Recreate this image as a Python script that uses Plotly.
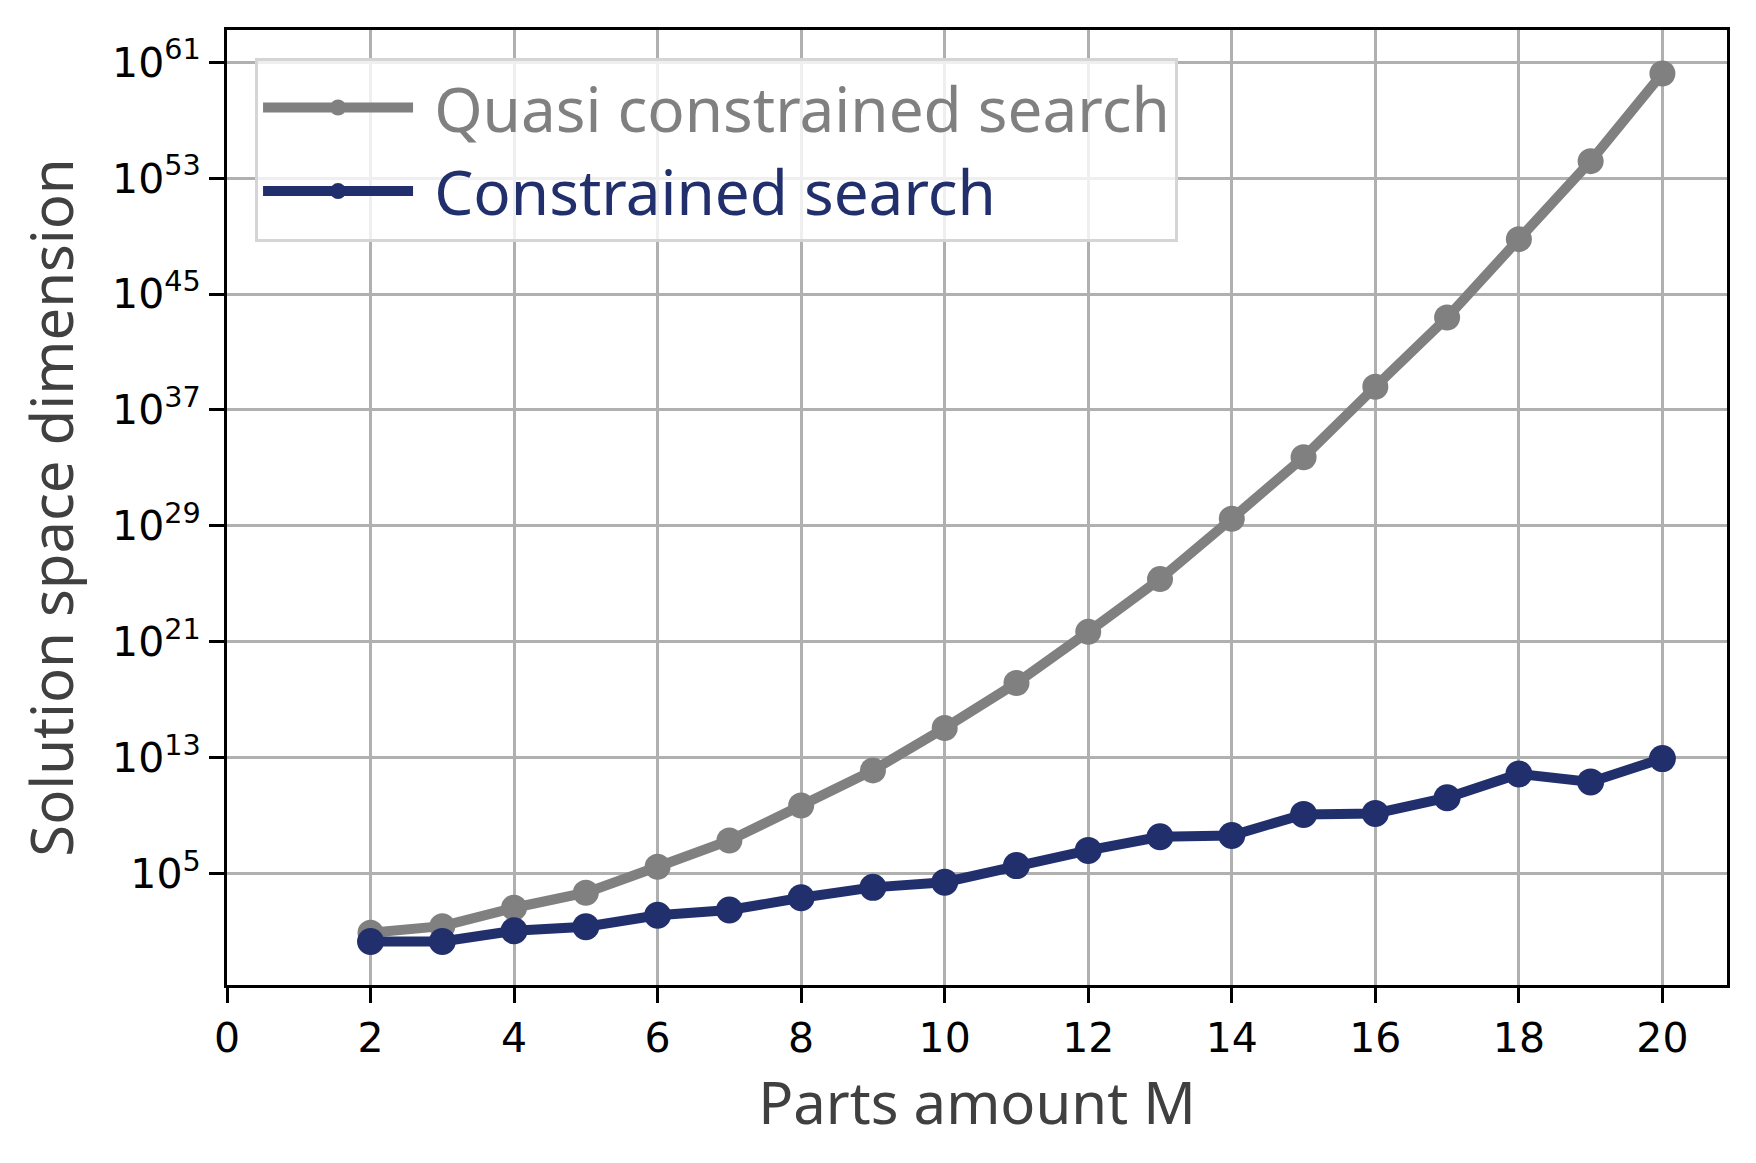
import plotly.graph_objects as go

parts_m = [2, 3, 4, 5, 6, 7, 8, 9, 10, 11, 12, 13, 14, 15, 16, 17, 18, 19, 20]

quasi_constrained = [8, 2.3e1, 4.3e2, 4.7e3, 2.9e5, 1.9e7, 4.9e9, 1.3e12, 1.1e15, 1.4e18,
                     4.8e21, 2.1e25, 3.1e29, 5.4e33, 4.0e38, 2.4e43, 6.2e48, 1.5e54, 1.7e60]

constrained = [2, 2, 1.1e1, 2.1e1, 1.3e2, 3.0e2, 2.1e3, 1.1e4, 2.5e4, 3.5e5,
               3.9e6, 3.4e7, 4.2e7, 1.2e9, 1.4e9, 1.7e10, 7.4e11, 2.1e11, 8.5e12]

y_tick_vals = [1e5, 1e13, 1e21, 1e29, 1e37, 1e45, 1e53, 1e61]
y_tick_text = ["10<sup>5</sup>", "10<sup>13</sup>", "10<sup>21</sup>", "10<sup>29</sup>",
               "10<sup>37</sup>", "10<sup>45</sup>", "10<sup>53</sup>", "10<sup>61</sup>"]

gray = "#808080"
navy = "#21306c"
title_font = dict(family="Noto Sans", size=58, color="#404040")

fig = go.Figure()
fig.add_trace(go.Scatter(
    x=parts_m, y=quasi_constrained, mode="lines+markers",
    name="<span style='color:%s'>&nbsp;Quasi constrained search</span>" % gray,
    line=dict(color=gray, width=10), marker=dict(color=gray, size=26),
))
fig.add_trace(go.Scatter(
    x=parts_m, y=constrained, mode="lines+markers",
    name="<span style='color:%s'>&nbsp;Constrained search</span>" % navy,
    line=dict(color=navy, width=10), marker=dict(color=navy, size=27),
))

axis_common = dict(
    showline=True, linecolor="black", linewidth=3, mirror=True,
    ticks="outside", ticklen=15, tickwidth=3, tickcolor="black",
    showgrid=True, gridcolor="#b0b0b0", gridwidth=3, zeroline=False,
    tickfont=dict(family="DejaVu Sans", size=41, color="black"),
)

fig.update_xaxes(range=[0, 20.9], dtick=2, tick0=0,
                 title=dict(text="Parts amount M", font=title_font, standoff=20),
                 **axis_common)
fig.update_yaxes(type="log", range=[-2.7, 63.23],
                 tickvals=y_tick_vals, ticktext=y_tick_text,
                 title=dict(text="Solution space dimension", font=title_font, standoff=20),
                 **axis_common)

# page body adds an 8px offset, so margins are shifted to keep the plot area in place
fig.update_layout(
    width=1756, height=1163,
    margin=dict(l=219, r=37, t=22, b=186),
    plot_bgcolor="white", paper_bgcolor="white",
    legend=dict(
        x=0.0187, y=0.971, xanchor="left", yanchor="top",
        bgcolor="rgba(255,255,255,0.8)", bordercolor="#d5d5d5", borderwidth=3,
        font=dict(family="Noto Sans", size=62, color=gray),
        itemwidth=150,
    ),
)

fig.write_html("out.html")
